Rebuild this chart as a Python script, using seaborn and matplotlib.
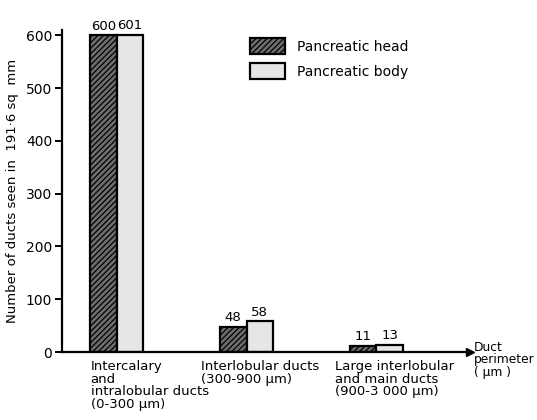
import numpy as np
import pandas as pd
import matplotlib
matplotlib.use("Agg")
import matplotlib.pyplot as plt
import seaborn as sns
from matplotlib.patches import Patch

# data
duct_types = ["Intercalary\nand\nintralobular ducts\n(0-300 μm)",
              "Interlobular ducts\n(300-900 μm)",
              "Large interlobular\nand main ducts\n(900-3 000 μm)"]
regions = ["Pancreatic head", "Pancreatic body"]
head_counts = [600, 48, 11]
body_counts = [601, 58, 13]
y_ticks = [0, 100, 200, 300, 400, 500, 600]

df = pd.DataFrame({
    "duct": duct_types * 2,
    "region": [regions[0]] * 3 + [regions[1]] * 3,
    "count": head_counts + body_counts,
})

sns.set_style("white")
plt.rcParams["font.family"] = ["DejaVu Sans"]
plt.rcParams["hatch.linewidth"] = 0.9
plt.rcParams["text.color"] = "black"
plt.rcParams["axes.labelcolor"] = "black"
plt.rcParams["xtick.color"] = "black"
plt.rcParams["ytick.color"] = "black"

fig = plt.figure(figsize=(5.37, 4.2), dpi=100)
ax = fig.add_axes([62/537, 68/420, (470-62)/537, (352-30)/420])

sns.barplot(data=df, x="duct", y="count", hue="region", hue_order=regions,
            width=0.41, gap=0, ax=ax, legend=False, dodge=True)

styles = [dict(facecolor="#6e6e6e", hatch="//////"),
          dict(facecolor="#e6e6e6", hatch=None)]
for cont, st in zip(ax.containers, styles):
    for bar in cont:
        bar.set_facecolor(st["facecolor"])
        bar.set_edgecolor("black")
        bar.set_linewidth(1.6)
        if st["hatch"]:
            bar.set_hatch(st["hatch"])
    ax.bar_label(cont, padding=2, fontsize=9.5, color="black")

ax.set_xlim(-0.42, 2.72)
ax.set_ylim(0, 610)
ax.set_yticks(y_ticks)
ax.tick_params(axis="y", left=True, direction="out", length=5, width=1.4,
               labelsize=10, pad=2, colors="black")
ax.set_xticks([])
ax.set_xlabel("")
ax.set_ylabel("Number of ducts seen in  191·6 sq  mm", fontsize=9.5, labelpad=5)

for s in ["top", "right"]:
    ax.spines[s].set_visible(False)
for s in ["left", "bottom"]:
    ax.spines[s].set_linewidth(1.6)
    ax.spines[s].set_color("black")

# arrow head on the x axis
ax.plot(1, 0, ">k", markersize=6, transform=ax.get_yaxis_transform(), clip_on=False)

# category labels, left-aligned under each group
label_offsets = [-0.2, -0.35, -0.32]
for i, (lab, off) in enumerate(zip(duct_types, label_offsets)):
    ax.text(i + off, -16, lab, ha="left", va="top", fontsize=9.5,
            linespacing=0.95, clip_on=False)

fig.text(474/537, 1 - 341/420, "Duct\nperimeter\n( μm )", ha="left", va="top",
         fontsize=8.8, linespacing=0.95)

handles = [Patch(facecolor=styles[0]["facecolor"], edgecolor="black", hatch="//////", linewidth=1.6),
           Patch(facecolor=styles[1]["facecolor"], edgecolor="black", linewidth=1.6)]
fig.legend(handles, regions, loc="upper left", bbox_to_anchor=(250/537, 1 - 38/420),
           frameon=False, fontsize=10, handlelength=2.5, handleheight=1.45,
           labelspacing=0.6, handletextpad=0.85, borderpad=0, borderaxespad=0)

fig.savefig("out.png", dpi=100)
